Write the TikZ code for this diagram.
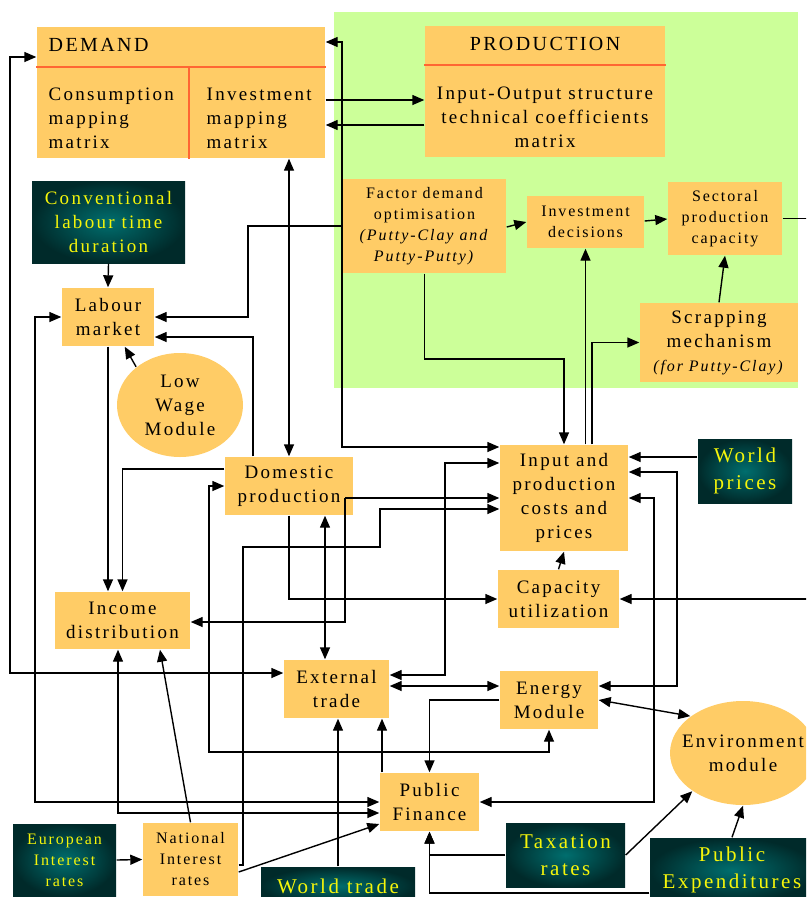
\documentclass[tikz,border=0pt]{standalone}
\usepackage{fontspec}
\setmainfont{Liberation Serif}[LetterSpace=12]
\usetikzlibrary{arrows.meta,shapes.geometric}
\definecolor{boxorange}{RGB}{255,204,102}
\definecolor{prodgreen}{RGB}{204,255,153}
\definecolor{headline}{RGB}{255,102,51}
\definecolor{tealin}{RGB}{0,110,110}
\definecolor{tealout}{RGB}{0,42,42}
\definecolor{inyellow}{RGB}{245,245,10}
\newcommand{\fmain}{\fontsize{19}{24}\selectfont}
\newcommand{\fsmall}{\fontsize{16}{21}\selectfont}
\newcommand{\fbig}{\fontsize{21}{27}\selectfont}
\newcommand{\fhead}{\fontsize{20}{24}\selectfont}
\begin{document}
\begin{tikzpicture}[x=1pt, y=-1pt, line width=1.4pt,
    >={Triangle[length=12pt,width=10pt]},
    module/.style={rectangle, fill=boxorange, inner sep=0pt, align=center, font=\fmain},
    modsmall/.style={module, font=\fsmall},
    oval/.style={ellipse, fill=boxorange, inner sep=0pt, align=center, font=\fmain},
    given/.style={rectangle, shading=radial, inner color=tealin, outer color=tealout,
        text=inyellow, inner sep=0pt, align=center, font=\fbig},
    headrule/.style={draw=headline, line width=1.5pt}]
    \path[use as bounding box, clip] (0,0) rectangle (806,897);
    \node[fill=prodgreen, inner sep=0pt, minimum width=464, minimum height=376] (prodarea) at (566,200) {};

    \node[module, minimum width=288, minimum height=131] (dem) at (181,92.5) {};
    \node[module, font=\fhead, anchor=west] (demt) at (48,45) {DEMAND};
    \draw[headrule] (dem.west |- 0,67) -- (dem.east |- 0,67);
    \draw[headrule] (189,67) -- (dem.south -| 189,0);
    \node[module, anchor=west, align=left] (cons) at (48,118) {Consumption\\mapping\\matrix};
    \node[module, anchor=west, align=left] (invm) at (206,118) {Investment\\mapping\\matrix};

    \node[module, minimum width=240, minimum height=131] (prod) at (545,91.5) {};
    \node[module, font=\fhead] (prodt) at (545,44) {PRODUCTION};
    \draw[headrule] (prod.west |- 0,65) -- (prod.east |- 0,65);
    \node[module] (iot) at (545,117) {Input-Output structure\\technical coefficients\\matrix};

    \node[modsmall, minimum width=163, minimum height=94] (fac) at (424.5,226) {Factor demand\\optimisation\\\textit{(Putty-Clay and}\\\textit{Putty-Putty)}};
    \node[modsmall, minimum width=117, minimum height=52] (invd) at (585.5,222) {Investment\\decisions};
    \node[modsmall, minimum width=114, minimum height=73] (sect) at (725,218.5) {Sectoral\\production\\capacity};
    \node[module, minimum width=158, minimum height=79] (scrap) at (719,342.5) {Scrapping\\mechanism\\{\fsmall\textit{(for Putty-Clay)}}};
    \node[given, font=\fmain, minimum width=153, minimum height=82] (conv) at (108.5,222) {Conventional\\labour time\\duration};
    \node[module, minimum width=92, minimum height=58] (lab) at (108,317) {Labour\\market};
    \node[oval, minimum width=126, minimum height=104] (low) at (180,405) {Low\\Wage\\Module};
    \node[module, minimum width=128, minimum height=58] (dom) at (289,486) {Domestic\\production};
    \node[module, minimum width=128, minimum height=106] (inp) at (564,498) {Input and\\production\\costs and\\prices};
    \node[given, minimum width=94, minimum height=64] (wpr) at (745,471) {World\\prices};
    \node[module, minimum width=121, minimum height=58] (cap) at (558.5,599) {Capacity\\utilization};
    \node[module, minimum width=135, minimum height=57] (inc) at (122.5,620.5) {Income\\distribution};
    \node[module, minimum width=105, minimum height=58] (ext) at (336.5,689) {External\\trade};
    \node[module, minimum width=98, minimum height=58] (ene) at (549,700) {Energy\\Module};
    \node[oval, inner xsep=-14pt, minimum width=146, minimum height=104] (env) at (743,753) {Environment\\module};
    \node[module, minimum width=99, minimum height=58] (pf) at (429.5,802) {Public\\Finance};
    \node[given, minimum width=119, minimum height=64] (tax) at (565.5,855) {Taxation\\rates};
    \node[given, minimum width=164, minimum height=64] (pex) at (732,870) {Public\\Expenditures};
    \node[given, minimum width=154, minimum height=38] (wtr) at (338,886) {World trade};
    \node[given, font=\fsmall, minimum width=103, minimum height=72] (eur) at (64.5,860) {European\\Interest\\rates};
    \node[modsmall, minimum width=95, minimum height=73] (nir) at (190.5,859.5) {National\\Interest\\rates};

    \draw[<->] (dem.east |- 0,42) -- (342,42) -- (342,447) -- (inp.west |- 0,447);
    \draw[->] (dem.east |- 0,100) -- (prod.west |- 0,100);
    \draw[->] (prod.west |- 0,125) -- (dem.east |- 0,125);
    \draw[<->] (dem.west |- 0,57) -- (10,57) -- (10,673) -- (ext.west |- 0,673);
    \draw[<->] (dom.north |- dem.south) -- (dom.north);
    \draw[->] (fac.east |- 0,227) to (invd.west |- 0,222);
    \draw[->] (invd.east |- 0,221) to (sect.west |- 0,219);
    \draw[->] (scrap.north) to (sect.south);
    \draw[->] (fac.west) -- (248,226) -- (248,317) -- (lab.east);
    \draw[->] (fac.south) -- (424.5,359) -- (564,359) -- (inp.north);
    \draw[->] (invd.south |- inp.north) -- (invd.south);
    \draw[->] (inp.north -| 592,0) -- (592,342.5) -- (scrap.west);
    \draw[->] (sect.east) -- (812,218.5) -- (812,599) -- (cap.east);
    \draw[->] (conv.south) to (lab.north);
    \draw[->] (low.139) to (lab);
    \draw[->] (dom.north -| 253,0) -- (253,337) -- (lab.east |- 0,337);
    \draw[->] (lab.south) -- (lab.south |- inc.north);
    \draw[->] (dom.west |- 0,469) -- (122.5,469) -- (inc.north);
    \draw[<->] (lab.west) -- (35,317) -- (35,802) -- (pf.west);
    \draw[<->] (inc.south -| 118,0) -- (118,813) -- (pf.west |- 0,813);
    \draw[->] (nir.north) to (inc.south -| 160,0);
    \draw[->] (eur.east) to (nir.west);
    \draw[->] (nir.east |- 0,872) to (pf.west |- 0,824);
    \draw[->] (nir.east |- 0,865) -- (243,865) -- (243,547) -- (380,547) -- (380,509) -- (inp.west |- 0,509);
    \coordinate (domout) at (345,498);
    \draw[->] (domout) -- (inp.west |- domout);
    \draw[->] (domout) |- (inc.east |- 0,622);
    \draw[->] (dom.south) |- (cap.west);
    \draw[->] (cap.north) to (inp.south);
    \draw[->] (wpr.west |- 0,457) -- (inp.east |- 0,457);
    \draw[<->] (inp.east |- 0,472) -- (677,472) -- (677,686) -- (ene.east |- 0,686);
    \draw[<->] (inp.east) -- (654,498) |- (pf.east);
    \draw[<->] (inp.west |- 0,463) -- (445,463) -- (445,675) -- (ext.east |- 0,675);
    \draw[<->] (ext.east |- 0,686) -- (ene.west |- 0,686);
    \draw[<->] (ene.east) to (env.145);
    \draw[->] (ene.west) -| (pf.north);
    \draw[<->] (dom.west) -- (209,486) -- (209,752) -- (549,752) -- (ene.south);
    \draw[<->] (dom.south -| 325,0) -- (ext.north -| 325,0);
    \draw[->] (wtr.north) -- (wtr.north |- ext.south);
    \draw[->] (pf.north -| 382,0) -- (ext.south -| 382,0);
    \draw[->] (tax.west) -| (pf.south);
    \draw[->] (pex.west |- 0,893) -| (pf.south);
    \draw[->] (tax.east) to (env.217);
    \draw[->] (pex.north) to (env.south);
\end{tikzpicture}
\end{document}
